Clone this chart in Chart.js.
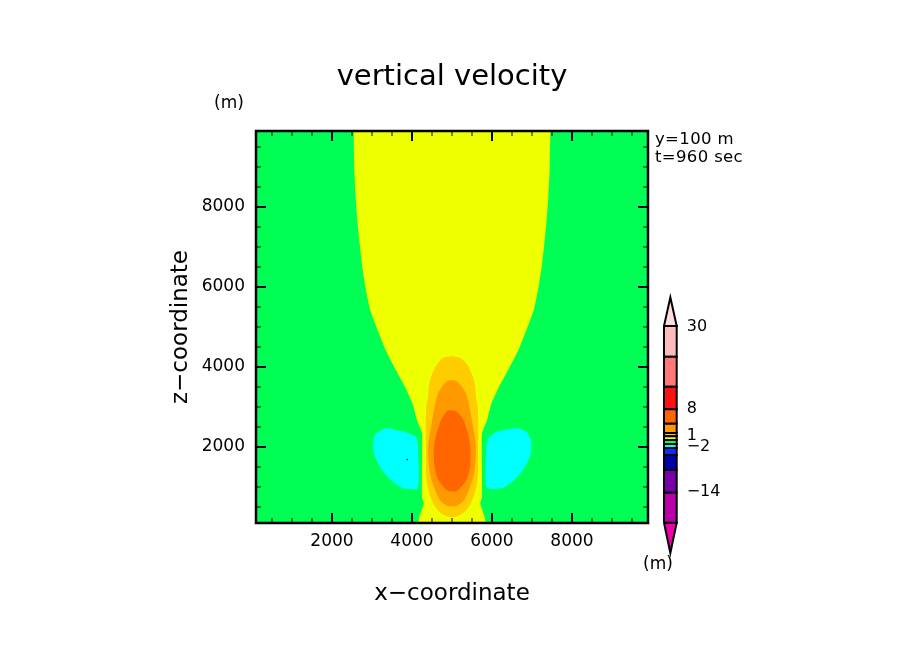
<!DOCTYPE html>
<html lang="en">
  <head>
    <meta charset="UTF-8" />
    <title>vertical velocity</title>
    <script src="https://cdn.jsdelivr.net/npm/chart.js"></script>
    <style>
      body {
        margin: 0;
        padding: 0;
        background: white;
      }
      #wrap {
        position: relative;
        width: 904px;
        height: 654px;
      }
      canvas {
        position: absolute;
      }
      #fieldCanvas {
        left: 0;
        top: 0;
      }
      #barCanvas {
        left: 650px;
        top: 290px;
      }
    </style>
  </head>
  <body>
    <div id="wrap">
      <canvas id="fieldCanvas" width="904" height="654"></canvas>
      <canvas id="barCanvas" width="90" height="280"></canvas>
    </div>

    <script>
      // both axes tick every 500 m, every fourth tick is labelled
      const axisTicks = [500, 1000, 1500, 2000, 2500, 3000, 3500, 4000, 4500, 5000, 5500, 6000, 6500, 7000, 7500, 8000, 8500, 9000, 9500];

      // contour outlines in metres
      const greenX = [100, 9900, 9900, 100];
      const greenZ = [100, 100, 9900, 9900];

      const yellowX = [2542, 2558, 2592, 2633, 2692, 2758, 2850, 2958, 3142, 3342, 3600, 3825, 4017, 4125, 4250, 4250, 4250, 4292, 4183, 4175, 5825, 5817, 5708, 5750, 5750, 5750, 5875, 5983, 6175, 6400, 6658, 6858, 7042, 7150, 7242, 7308, 7367, 7408, 7442, 7458];
      const yellowZ = [9900, 8917, 8250, 7667, 7083, 6500, 5917, 5417, 4917, 4417, 3917, 3500, 3083, 2667, 2333, 1333, 750, 583, 250, 100, 100, 250, 583, 750, 1333, 2333, 2667, 3083, 3500, 3917, 4417, 4917, 5417, 5917, 6500, 7083, 7667, 8250, 8917, 9900];

      const amberX = [5000, 4783, 4633, 4508, 4433, 4400, 4358, 4342, 4350, 4350, 4408, 4533, 4742, 5000, 5258, 5467, 5592, 5650, 5650, 5658, 5642, 5600, 5567, 5492, 5367, 5217];
      const amberZ = [4267, 4233, 4083, 3833, 3583, 3250, 3000, 2500, 1917, 1333, 917, 583, 333, 250, 333, 583, 917, 1333, 1917, 2500, 3000, 3250, 3583, 3833, 4083, 4233];

      const orangeX = [5000, 4883, 4742, 4633, 4550, 4475, 4408, 4408, 4450, 4550, 4700, 4883, 5000, 5117, 5300, 5450, 5550, 5592, 5592, 5525, 5450, 5367, 5258, 5117];
      const orangeZ = [3667, 3650, 3500, 3292, 2917, 2500, 2083, 1750, 1333, 1000, 667, 525, 517, 525, 667, 1000, 1333, 1750, 2083, 2500, 2917, 3292, 3500, 3650];

      const deepOrangeX = [5000, 4883, 4742, 4650, 4583, 4542, 4567, 4642, 4825, 4908, 5117, 5267, 5375, 5450, 5467, 5433, 5367, 5242, 5100];
      const deepOrangeZ = [2917, 2900, 2708, 2458, 2208, 1875, 1500, 1208, 958, 900, 900, 1042, 1208, 1500, 1875, 2167, 2458, 2750, 2900];

      const cyanLeftX = [3325, 3467, 3575, 3742, 3950, 4100, 4142, 4158, 4175, 4133, 3950, 3742, 3533, 3325, 3158, 3050, 3025, 3067, 3200];
      const cyanLeftZ = [2467, 2467, 2417, 2400, 2333, 2250, 2083, 1750, 1333, 958, 950, 983, 1125, 1333, 1583, 1833, 2000, 2292, 2400];

      const cyanRightX = [6658, 6533, 6283, 6117, 5908, 5850, 5842, 5883, 6283, 6492, 6700, 6867, 6967, 6975, 6867, 6742];
      const cyanRightZ = [2467, 2467, 2417, 2375, 2208, 1833, 1333, 983, 983, 1125, 1333, 1583, 1833, 2167, 2375, 2433];

      // single stray blue cell left of the updraft
      const strayX = [3883];
      const strayZ = [1685];

      // colour bar, bottom to top, in bar axis units
      const barEdges = [0, 30, 52.7, 67.7, 74.7, 78.7, 82.7, 86.4, 89.7, 99, 113.4, 136, 166, 196.7];
      const barColors = ["#bb00aa", "#7700aa", "#0000aa", "#0033ff", "#00ffff", "#00ff55", "#eeff00", "#ffcc00", "#ff9900", "#ff6600", "#ff1111", "#ff7777", "#ffbbbb"];
      const barTickStops = [30.7, 75.7, 87.2, 113.7, 196.2];
      const barTickLabels = ["\u221214", "\u22122", "1", "8", "30"];
      const barTipLow = -30.3;
      const barTipHigh = 225.4;

      const FONT = '"DejaVu Sans", sans-serif';
      Chart.defaults.font.family = FONT;
      Chart.defaults.color = "#000";
      Chart.defaults.animation = false;

      function zip(xs, ys) {
        return xs.map((x, i) => ({ x: x, y: ys[i] }));
      }

      function region(xs, ys, color, tension) {
        return {
          data: zip(xs, ys),
          showLine: true,
          fill: "shape",
          backgroundColor: color,
          borderWidth: 0,
          pointRadius: 0,
          tension: tension,
        };
      }

      // bottom layer first, Chart.js paints dataset 0 last
      const layers = [
        region(greenX, greenZ, "#00ff55", 0),
        region(yellowX, yellowZ, "#eeff00", 0.15),
        region(amberX, amberZ, "#ffcc00", 0.3),
        region(orangeX, orangeZ, "#ff9900", 0.3),
        region(deepOrangeX, deepOrangeZ, "#ff6600", 0.3),
        region(cyanLeftX, cyanLeftZ, "#00ffff", 0.3),
        region(cyanRightX, cyanRightZ, "#00ffff", 0.3),
        {
          data: zip(strayX, strayZ),
          showLine: false,
          pointRadius: 0.8,
          borderWidth: 0,
          backgroundColor: "#0000aa",
        },
      ].reverse();

      // frame and inward ticks on all four sides
      const frameTicks = {
        id: "frameTicks",
        afterDatasetsDraw(chart) {
          const { ctx, chartArea: a, scales } = chart;
          ctx.save();
          ctx.strokeStyle = "#000";
          scales.x.ticks.forEach((t) => {
            const px = Math.round(scales.x.getPixelForValue(t.value));
            const major = t.value % 2000 === 0;
            const len = major ? 10 : 5;
            ctx.lineWidth = major ? 2 : 1;
            ctx.beginPath();
            ctx.moveTo(px, a.bottom);
            ctx.lineTo(px, a.bottom - len);
            ctx.moveTo(px, a.top);
            ctx.lineTo(px, a.top + len);
            ctx.stroke();
          });
          scales.y.ticks.forEach((t) => {
            const py = Math.round(scales.y.getPixelForValue(t.value));
            const major = t.value % 2000 === 0;
            const len = major ? 10 : 5;
            ctx.lineWidth = major ? 2 : 1;
            ctx.beginPath();
            ctx.moveTo(a.left, py);
            ctx.lineTo(a.left + len, py);
            ctx.moveTo(a.right, py);
            ctx.lineTo(a.right - len, py);
            ctx.stroke();
          });
          ctx.lineWidth = 2.5;
          ctx.strokeRect(a.left, a.top, a.right - a.left, a.bottom - a.top);
          ctx.restore();
        },
      };

      // unit marks and the run info beside the plot
      const notes = {
        id: "notes",
        afterDraw(chart) {
          const { ctx } = chart;
          ctx.save();
          ctx.fillStyle = "#000";
          ctx.textBaseline = "alphabetic";
          ctx.textAlign = "left";
          ctx.font = "17px " + FONT;
          ctx.fillText("(m)", 214, 108);
          ctx.fillText("(m)", 643, 569);
          ctx.font = "16.5px " + FONT;
          ctx.letterSpacing = "0.35px";
          ctx.fillText("y=100 m", 655, 144);
          ctx.fillText("t=960 sec", 655, 162);
          ctx.restore();
        },
      };

      function useAxisTicks(scale) {
        scale.ticks = axisTicks.map((v) => ({ value: v }));
      }

      new Chart(document.getElementById("fieldCanvas"), {
        type: "scatter",
        data: { datasets: layers },
        options: {
          responsive: false,
          plugins: {
            legend: { display: false },
            tooltip: { enabled: false },
            title: {
              display: true,
              text: "vertical velocity",
              font: { size: 29, weight: "normal" },
              color: "#000",
              padding: { top: 60, bottom: 36.2 },
            },
          },
          scales: {
            x: {
              min: 100,
              max: 9900,
              bounds: "data",
              afterBuildTicks: useAxisTicks,
              afterFit(scale) {
                scale.height = 131;
              },
              grid: { display: false, drawTicks: false },
              border: { display: false },
              ticks: {
                autoSkip: false,
                maxRotation: 0,
                padding: 8,
                font: { size: 17 },
                callback: (v) => (v % 2000 === 0 ? String(v) : ""),
              },
              title: {
                display: true,
                text: "x\u2212coordinate",
                font: { size: 23 },
                padding: { top: 0, bottom: 46 },
              },
            },
            y: {
              min: 100,
              max: 9900,
              bounds: "data",
              afterBuildTicks: useAxisTicks,
              afterFit(scale) {
                scale.width = 256;
              },
              grid: { display: false, drawTicks: false },
              border: { display: false },
              ticks: {
                autoSkip: false,
                padding: 11,
                font: { size: 17 },
                callback: (v) => (v % 2000 === 0 ? String(v) : ""),
              },
              title: {
                display: true,
                text: "z\u2212coordinate",
                font: { size: 23 },
                padding: { top: 167, bottom: 0 },
              },
            },
            // empty axis, only keeps the white margin right of the plot
            margin: {
              position: "right",
              afterFit(scale) {
                scale.width = 256;
              },
              grid: { display: false, drawTicks: false },
              border: { display: false },
              ticks: { display: false },
            },
          },
        },
        plugins: [frameTicks, notes],
      });

      function barPiece(points, color) {
        return {
          data: points,
          showLine: true,
          fill: "shape",
          backgroundColor: color,
          borderColor: "#000",
          borderWidth: 2,
          pointRadius: 0,
          clip: false,
        };
      }

      const barPieces = barColors.map((color, i) => {
        const lo = barEdges[i];
        const hi = barEdges[i + 1];
        return barPiece(zip([0, 1, 1, 0, 0], [lo, lo, hi, hi, lo]), color);
      });
      const barTop = barEdges[barEdges.length - 1];
      barPieces.push(barPiece(zip([0, 1, 0.5, 0], [barTop, barTop, barTipHigh, barTop]), "#ffdddd"));
      barPieces.push(barPiece(zip([0, 1, 0.5, 0], [0, 0, barTipLow, 0]), "#ee00aa"));

      new Chart(document.getElementById("barCanvas"), {
        type: "scatter",
        data: { datasets: barPieces },
        options: {
          responsive: false,
          layout: { padding: { left: 14 }, autoPadding: false },
          plugins: {
            legend: { display: false },
            tooltip: { enabled: false },
          },
          scales: {
            x: { display: false, min: 0, max: 1 },
            y: {
              position: "right",
              min: -47.3,
              max: 232.7,
              bounds: "data",
              afterFit(scale) {
                scale.width = 63.3;
                scale.paddingTop = 0;
                scale.paddingBottom = 0;
              },
              afterBuildTicks(scale) {
                scale.ticks = barTickStops.map((v) => ({ value: v }));
              },
              grid: { display: false, drawTicks: false },
              border: { display: false },
              ticks: {
                autoSkip: false,
                padding: 10,
                font: { size: 16 },
                callback: (v, i) => barTickLabels[i],
              },
            },
          },
        },
      });
    </script>
  </body>
</html>
